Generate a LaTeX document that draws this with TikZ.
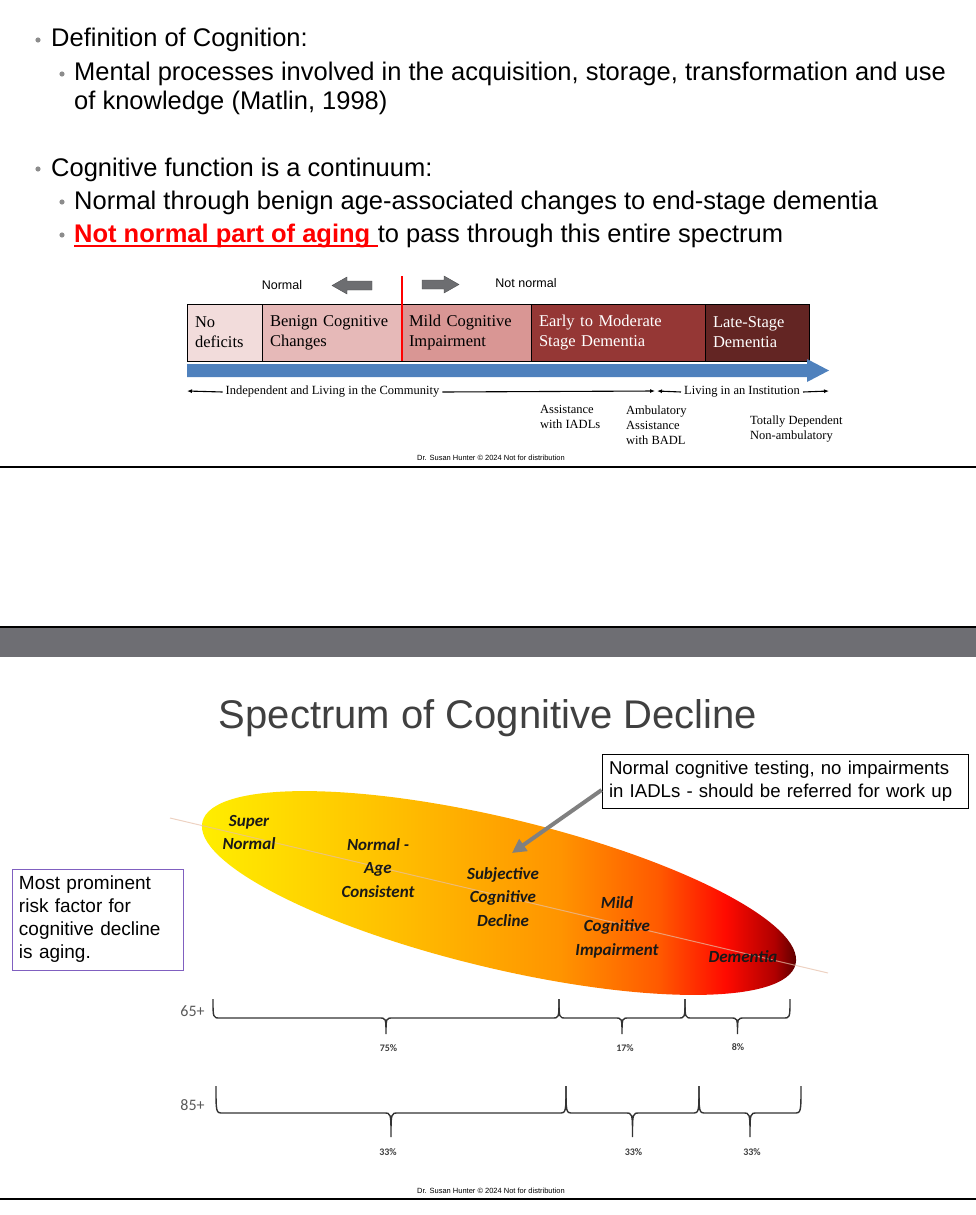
\documentclass[tikz,border=0pt]{standalone}
\usepackage{fontspec}
\setmainfont{Liberation Sans}
\newfontfamily\timesface{Liberation Serif}
\newfontfamily\calface{Carlito}
\usetikzlibrary{arrows.meta}

\definecolor{dotgray}{HTML}{8C8C8C}
\definecolor{stageA}{HTML}{F2DCDB}
\definecolor{stageB}{HTML}{E6B9B8}
\definecolor{stageC}{HTML}{D99694}
\definecolor{stageD}{HTML}{953735}
\definecolor{stageE}{HTML}{632523}
\definecolor{flowblue}{HTML}{4F81BD}
\definecolor{blockgray}{HTML}{6D6E71}
\definecolor{bandgray}{HTML}{6E6E73}
\definecolor{titlegray}{HTML}{404040}
\definecolor{framepurple}{HTML}{8060C0}
\definecolor{axisline}{HTML}{E6BFA8}
\definecolor{specA}{HTML}{FFF000}
\definecolor{specB}{HTML}{FFC000}
\definecolor{specC}{HTML}{FF9400}
\definecolor{specD}{HTML}{FF5A00}
\definecolor{specE}{HTML}{FF0A00}
\definecolor{specF}{HTML}{B00000}
\definecolor{specG}{HTML}{3A0000}
\pgfdeclarehorizontalshading{cogspec}{100bp}{color(0bp)=(specA); color(25bp)=(specA); color(41bp)=(specB); color(55bp)=(specC); color(63bp)=(specD); color(68.5bp)=(specE); color(72.5bp)=(specF); color(75bp)=(specG); color(100bp)=(specG)}

\begin{document}
\begin{tikzpicture}[x=1pt,y=-1pt,
  bodytext/.style={anchor=base west, inner sep=0, font=\fontsize{25.5}{30}\selectfont},
  stage/.style={draw=black, line width=0.6, anchor=north west, outer sep=0, minimum height=57, inner xsep=8, inner ysep=0, align=left, font=\timesface\fontsize{16.5}{20}\selectfont},
  flowtext/.style={inner xsep=3, inner ysep=0, font=\timesface\fontsize{12.5}{15}\selectfont},
  careline/.style={anchor=north west, inner sep=0, align=left, font=\timesface\fontsize{12.5}{15}\selectfont},
  footer/.style={font=\fontsize{7.5}{9}\selectfont},
  rule/.style={line width=2.5},
  phase/.style={align=center, text=black!90, font=\calface\bfseries\itshape\fontsize{17}{23.5}\selectfont},
  share/.style={text=titlegray, font=\calface\bfseries\fontsize{10}{12}\selectfont},
  agegroup/.style={text=black!65, font=\calface\fontsize{16}{18}\selectfont},
  bracestroke/.style={line width=1.4, draw=black!80}
]
\useasboundingbox (0,0) rectangle (976,1215);

% first slide
\fill[dotgray] (38,40) circle (2.6);
\node[bodytext] (defhead) at (51,47) {Definition of Cognition:};
\fill[dotgray] (62,74) circle (2.6);
\node[bodytext] (defbody) at (74,81) {Mental processes involved in the acquisition, storage, transformation and use};
\node[bodytext] (defbodyb) at (74,109) {of knowledge (Matlin, 1998)};

\fill[dotgray] (38,169) circle (2.6);
\node[bodytext] (conthead) at (51,176) {Cognitive function is a continuum:};
\fill[dotgray] (62,202) circle (2.6);
\node[bodytext] (contbody) at (74,209) {Normal through benign age-associated changes to end-stage dementia};
\fill[dotgray] (62,235) circle (2.6);
\node[bodytext, text=red, font=\bfseries\fontsize{25.5}{30}\selectfont] (notnormal) at (74,242) {Not normal part of aging\ \mbox{}};
\node[bodytext] (passthrough) at (notnormal.base east) {to pass through this entire spectrum};
\draw[red, line width=1.8] ([yshift=-4pt]notnormal.base west) -- ([yshift=-4pt]notnormal.base east);

% continuum
\node[font=\fontsize{12.5}{14}\selectfont] (normalword) at (282,285) {Normal};
\node[font=\fontsize{12.5}{14}\selectfont] (notnormalword) at (526,283) {Not normal};
\filldraw[fill=blockgray, draw=blockgray!70!black] (332,285.5) -- (347,277) -- (347,281) -- (372,281) -- (372,290) -- (347,290) -- (347,294) -- cycle;
\filldraw[fill=blockgray, draw=blockgray!70!black] (459,284.5) -- (444,276) -- (444,280) -- (422,280) -- (422,289) -- (444,289) -- (444,293) -- cycle;

\node[stage, fill=stageA, minimum width=75, text width=59] (nodeficit) at (187,304) {No\\deficits};
\node[stage, fill=stageB, minimum width=139, text width=123] (benign) at (nodeficit.north east) {Benign Cognitive\\Changes};
\node[stage, fill=stageC, minimum width=130, text width=114] (mci) at (benign.north east) {Mild Cognitive\\Impairment};
\node[stage, fill=stageD, minimum width=174, text width=158, text=white] (earlydem) at (mci.north east) {Early to Moderate\\Stage Dementia};
\node[stage, fill=stageE, minimum width=104, text width=88, text=white] (latedem) at (earlydem.north east) {Late-Stage\\Dementia};
\draw[red, line width=2.2] (402,276) -- (402,361);

\fill[flowblue] (187,364) -- (807,364) -- (807,359) -- (829,370.5) -- (807,382) -- (807,377) -- (187,377) -- cycle;

\node[flowtext] (community) at (332.5,392) {Independent and Living in the Community};
\node[flowtext] (institution) at (742,392) {Living in an Institution};
\coordinate (flowstart) at (187,391);
\coordinate (flowmid) at (655,391);
\coordinate (flowmidb) at (657,391);
\coordinate (flowend) at (829,391);
\draw[line width=1.1, {Latex[length=5pt,width=4pt]}-] (flowstart) -- (community.west);
\draw[line width=1.1, -{Latex[length=5pt,width=4pt]}] (community.east) -- (flowmid);
\draw[line width=1.1, {Latex[length=5pt,width=4pt]}-] (flowmidb) -- (institution.west);
\draw[line width=1.1, -{Latex[length=5pt,width=4pt]}] (institution.east) -- (flowend);

\node[careline] (iadl) at (540,405.5) {Assistance\\with IADLs};
\node[careline] (badl) at (626,405.5) {Ambulatory\\Assistance\\with BADL};
\node[careline] (dependent) at (750,415.5) {Totally Dependent\\Non-ambulatory};

\node[footer] (creditA) at (491,458) {Dr. Susan Hunter © 2024 Not for distribution};
\draw[rule] (0,467) -- (976,467);

% second slide
\fill[bandgray] (0,628) rectangle (976,657);
\draw[rule] (0,627) -- (976,627);
\node[anchor=base, text=titlegray, font=\fontsize{40}{48}\selectfont] (spectitle) at (488,728) {Spectrum of Cognitive Decline};

\shade[shading=cogspec, rotate around={-13.5:(499,893)}] (499,893) ellipse [x radius=305, y radius=75];
\draw[axisline, line width=1, opacity=0.7] (170,818) -- (828,973);

\node[phase] (supernormal) at (249,832.5) {Super\\Normal};
\node[phase] (agenormal) at (378,868) {Normal -\\Age\\Consistent};
\node[phase] (subjective) at (503,897) {Subjective\\Cognitive\\Decline};
\node[phase] (mildci) at (617,927) {Mild\\Cognitive\\Impairment};
\node[phase] (dementia) at (743,957) {Dementia};

\node[draw=black, line width=0.8, minimum width=366, minimum height=54, text width=352, inner xsep=7, align=left, font=\fontsize{18.6}{23}\selectfont] (testnote) at (785,781) {Normal cognitive testing, no impairments\\in IADLs - should be referred for work up};
\coordinate (scdtip) at (512,853);
\draw[line width=4, draw=black!50, -{Triangle[length=14pt,width=14pt]}] ([yshift=-9pt]testnote.west) -- (scdtip);

\node[draw=framepurple, line width=1, minimum width=171, minimum height=101, text width=157, inner xsep=7, align=left, font=\fontsize{19}{23}\selectfont] (riskbox) at (97.5,919.5) {Most prominent\\risk factor for\\cognitive decline\\is aging.};

% age brackets
\node[agegroup] (age65) at (192.5,1011.5) {65+};
\foreach \xa/\xb/\xm in {213/559/386, 559/685/622, 685/790/737.5}
  \draw[bracestroke] (\xa,999) .. controls (\xa,1018) and (\xa,1018) .. ({\xa+7},1018) -- ({\xm-7},1018)
    .. controls (\xm,1018) and (\xm,1018) .. (\xm,1034) .. controls (\xm,1018) and (\xm,1018) .. ({\xm+7},1018)
    -- ({\xb-7},1018) .. controls (\xb,1018) and (\xb,1018) .. (\xb,999);
\node[share] (p75) at (388.5,1048) {75\%};
\node[share] (p17) at (625,1048) {17\%};
\node[share] (p8) at (738,1047) {8\%};

\node[agegroup] (age85) at (192.5,1105) {85+};
\foreach \xa/\xb/\xm in {216/566/391, 566/699/632.5, 699/801/750}
  \draw[bracestroke] (\xa,1086) .. controls (\xa,1113) and (\xa,1113) .. ({\xa+7},1113) -- ({\xm-7},1113)
    .. controls (\xm,1113) and (\xm,1113) .. (\xm,1137) .. controls (\xm,1113) and (\xm,1113) .. ({\xm+7},1113)
    -- ({\xb-7},1113) .. controls (\xb,1113) and (\xb,1113) .. (\xb,1086);
\node[share] (p33a) at (388,1152.5) {33\%};
\node[share] (p33b) at (633.5,1152.5) {33\%};
\node[share] (p33c) at (752,1152.5) {33\%};

\node[footer] (creditB) at (491,1191) {Dr. Susan Hunter © 2024 Not for distribution};
\draw[rule] (0,1199) -- (976,1199);
\end{tikzpicture}
\end{document}
